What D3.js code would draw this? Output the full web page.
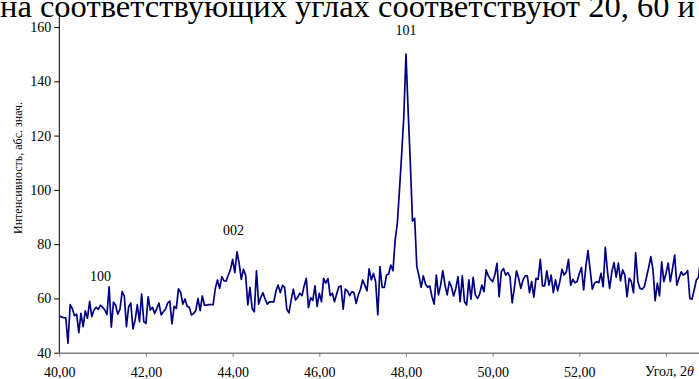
<!DOCTYPE html>
<html>
<head>
<meta charset="utf-8">
<script src="https://cdnjs.cloudflare.com/ajax/libs/d3/7.8.5/d3.min.js"></script>
<style>
    body { margin: 0; background: #fff; }
    svg { display: block; }
    text { font-family: "Liberation Serif", "Times New Roman", serif; fill: #000; }
</style>
</head>
<body>
<div id="chart"></div>
<script>

// scan starts at 40 deg, step 0.05 deg
var startAngle = 40,
    stepAngle = 0.05;

var intensity = [
    53.5, 53.2, 52.9, 52.8, 43.5, 57.7, 56.3, 53.6, 54.2, 47.4,
    54.5, 49.6, 55.4, 52.7, 58.9, 53.3, 55.7, 56.7, 56.0, 57.5,
    56.7, 55.7, 54.1, 64.3, 49.4, 58.6, 57.5, 54.2, 56.0, 62.5,
    60.9, 49.6, 56.9, 58.3, 48.8, 52.0, 57.7, 51.4, 61.6, 51.4,
    50.8, 60.6, 55.7, 56.7, 54.5, 56.3, 58.3, 53.9, 55.1, 56.0,
    58.3, 59.0, 50.6, 57.1, 56.3, 63.5, 62.2, 57.9, 59.8, 57.1,
    56.7, 53.9, 54.5, 55.5, 60.0, 55.5, 60.9, 57.5, 57.5, 57.7,
    57.7, 57.7, 63.7, 66.8, 63.7, 68.0, 66.5, 66.4, 68.6, 70.7,
    74.4, 69.5, 77.2, 72.9, 67.0, 70.7, 68.6, 57.6, 64.1, 56.3,
    55.1, 70.2, 57.9, 60.4, 62.1, 59.7, 57.9, 58.7, 58.7, 58.7,
    62.8, 64.9, 62.1, 64.8, 64.1, 56.0, 54.7, 59.4, 63.4, 59.4,
    60.4, 61.9, 61.0, 64.6, 67.4, 56.6, 60.2, 59.3, 64.6, 57.1,
    61.9, 58.8, 67.4, 65.6, 67.3, 61.0, 61.9, 58.8, 61.6, 64.3,
    64.6, 56.0, 63.4, 62.8, 61.0, 62.5, 62.1, 58.2, 61.3, 63.4,
    66.8, 64.9, 62.8, 70.9, 66.8, 69.2, 66.1, 53.9, 71.7, 64.1,
    64.1, 68.6, 69.0, 72.3, 70.2, 81.5, 87.7, 100.0, 113.0, 127.0,
    150.0, 129.0, 110.0, 88.5, 89.5, 71.7, 68.3, 64.1, 68.3, 65.3,
    64.1, 64.6, 60.6, 57.9, 68.6, 61.3, 64.9, 70.2, 64.9, 61.3,
    66.2, 64.1, 60.9, 63.7, 68.0, 58.8, 68.3, 58.8, 57.6, 66.8,
    59.7, 67.8, 61.3, 60.0, 61.6, 64.9, 62.5, 70.5, 68.3, 67.0,
    66.2, 68.6, 72.9, 60.6, 69.8, 71.0, 68.6, 69.5, 68.0, 58.4,
    63.7, 70.2, 67.4, 63.7, 66.8, 68.3, 68.3, 62.1, 66.2, 60.5,
    67.4, 67.0, 74.4, 64.6, 64.6, 70.2, 64.9, 68.6, 62.1, 66.8,
    62.8, 66.2, 70.7, 68.6, 69.8, 74.4, 64.9, 67.0, 65.8, 66.2,
    69.2, 71.4, 63.1, 71.7, 77.6, 70.5, 63.4, 65.6, 66.2, 65.8,
    69.2, 64.3, 78.8, 69.8, 63.7, 69.8, 73.2, 67.8, 73.0, 66.5,
    70.5, 68.6, 60.6, 67.4, 66.2, 62.1, 76.8, 66.2, 63.7, 63.4,
    64.3, 67.8, 71.4, 75.4, 70.5, 59.2, 65.6, 60.9, 73.5, 66.2,
    69.2, 73.0, 66.2, 71.0, 76.0, 64.9, 67.4, 69.8, 68.6, 69.2,
    70.2, 60.0, 59.7, 63.1, 66.8, 67.8, 74.8
];

var xTicks = [40, 42, 44, 46, 48, 50, 52, 54];
var yTicks = [40, 60, 80, 100, 120, 140, 160];

// peak (hkl) labels, placed in data units
var peakLabels = ["100", "002", "101"];
var peakLabelAngles = [40.95, 44.02, 48.0];
var peakLabelValues = [66.4, 83.3, 156.9];

var headText = "на соответствующих углах соответствуют 20, 60 и";
var yTitle = "Интенсивность, абс. знач.";
var xTitle = "Угол, 2";

var fullWidth = 699,
    fullHeight = 379;

var data = intensity.map(function (v, i) {
    return { angle: startAngle + i * stepAngle, value: v };
});

var x = d3.scaleLinear()
        .domain([40, 54])
        .range([59.3, 666]);

var y = d3.scaleLinear()
        .domain([40, 160])
        .range([352.7, 27]);

var svg = d3.select("#chart").append("svg")
        .attr("width", fullWidth)
        .attr("height", fullHeight);

svg.append("text")
        .attr("x", 0)
        .attr("y", 17)
        .style("font-size", "32.5px")
        .text(headText);

var commaFormat = d3.formatLocale({ decimal: ",", thousands: " ", grouping: [3], currency: ["", ""] }).format(".2f");

var xAxis = d3.axisBottom(x)
        .tickValues(xTicks)
        .tickSize(4)
        .tickFormat(function (d) { return d == 54 ? "" : commaFormat(d); });

var yAxis = d3.axisLeft(y)
        .tickValues(yTicks)
        .tickSize(5)
        .tickFormat(d3.format("d"));

var gx = svg.append("g")
        .attr("class", "x axis")
        .attr("transform", "translate(0," + y(40) + ")")
        .call(xAxis);

gx.select(".domain").remove();
gx.insert("line", ":first-child")
        .attr("x1", x(40))
        .attr("x2", fullWidth)
        .attr("y1", 0.5)
        .attr("y2", 0.5)
        .attr("stroke", "#808080")
        .attr("stroke-width", 1.5);
gx.selectAll(".tick line").attr("stroke", "#808080");
gx.selectAll(".tick text")
        .attr("y", 14)
        .style("font-family", "Liberation Serif")
        .style("font-size", "14px");

var gy = svg.append("g")
        .attr("class", "y axis")
        .attr("transform", "translate(" + x(40) + ",0)")
        .call(yAxis);

gy.select(".domain").remove();
gy.append("line")
        .attr("x1", 0)
        .attr("x2", 0)
        .attr("y1", y(165))
        .attr("y2", y(40))
        .attr("stroke", "#000");
gy.selectAll(".tick text")
        .attr("x", -8)
        .style("font-family", "Liberation Serif")
        .style("font-size", "14px");

var xt = svg.append("text")
        .attr("x", 645)
        .attr("y", 376)
        .style("font-size", "14px")
        .text(xTitle);
xt.append("tspan")
        .style("font-style", "italic")
        .text("θ");

svg.append("text")
        .attr("transform", "translate(21.5," + 168 + ") rotate(-90)")
        .attr("text-anchor", "middle")
        .style("font-size", "12px")
        .text(yTitle);

var line = d3.line()
        .x(function (d) { return x(d.angle); })
        .y(function (d) { return y(d.value); });

svg.append("path")
        .datum(data)
        .attr("fill", "none")
        .attr("stroke", "#000080")
        .attr("stroke-width", 1.7)
        .attr("stroke-linejoin", "round")
        .attr("d", line);

svg.selectAll("text.peak")
        .data(peakLabels)
        .enter().append("text")
        .attr("class", "peak")
        .attr("text-anchor", "middle")
        .attr("x", function (d, i) { return x(peakLabelAngles[i]); })
        .attr("y", function (d, i) { return y(peakLabelValues[i]); })
        .style("font-size", "14px")
        .text(function (d) { return d; });

</script>
</body>
</html>
